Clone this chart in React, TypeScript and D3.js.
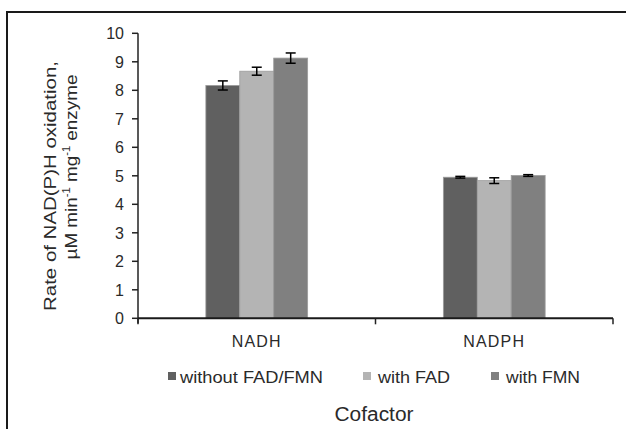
import React from "react";
import * as d3 from "d3";

const categories = ["NADH", "NADPH"];
const seriesNames = ["without FAD/FMN", "with FAD", "with FMN"];
const seriesColors = ["#606060", "#b4b4b4", "#808080"];
const values = [
  [8.17, 8.67, 9.13],
  [4.95, 4.83, 5.01],
];
const errors = [
  [0.16, 0.14, 0.18],
  [0.03, 0.1, 0.03],
];
const yTicks = [0, 1, 2, 3, 4, 5, 6, 7, 8, 9, 10];

const W = 626;
const H = 429;
const left = 138;
const right = 613;
const top = 33.3;
const bottom = 318.3;
const FONT = "'Liberation Sans', Arial, sans-serif";
const TXT = "#2a2a2a";

export default function App() {
  const y = d3.scaleLinear().domain([0, 10]).range([bottom, top]);
  const x0 = d3.scaleBand<string>().domain(categories).range([left, right]).padding(0);
  const x1 = d3
    .scaleBand<string>()
    .domain(seriesNames)
    .range([0, x0.bandwidth()])
    .paddingInner(0)
    .paddingOuter(2);

  const xTickPos = [left, ...categories.map((c) => (x0(c) as number) + x0.bandwidth()), right];
  const uniqTicks = Array.from(new Set(xTickPos.map((v) => Math.round(v * 10) / 10)));

  const legendItems = [
    { sx: 168, tx: 180, w: 143 },
    { sx: 363, tx: 378, w: 72 },
    { sx: 491, tx: 506, w: 74 },
  ];

  return (
    <svg width={W} height={H} style={{ position: "absolute", left: 0, top: 0 }}>
      <rect x={0} y={0} width={W} height={H} fill="#fff" />
      <rect x={7} y={12} width={800} height={600} fill="none" stroke="#1a1a1a" strokeWidth={2} />

      {/* bars */}
      {categories.map((c, ci) =>
        seriesNames.map((s, si) => {
          const bx = (x0(c) as number) + (x1(s) as number);
          const v = values[ci][si];
          return (
            <rect
              key={c + s}
              x={bx}
              y={y(v)}
              width={x1.bandwidth()}
              height={bottom - y(v)}
              fill={seriesColors[si]}
              stroke="#9c9c9c"
              strokeWidth={0.8}
            />
          );
        })
      )}

      {/* error bars */}
      {categories.map((c, ci) =>
        seriesNames.map((s, si) => {
          const cx = (x0(c) as number) + (x1(s) as number) + x1.bandwidth() / 2;
          const v = values[ci][si];
          const e = errors[ci][si];
          return (
            <g key={"e" + c + s} stroke="#000" strokeWidth={1.5}>
              <line x1={cx} x2={cx} y1={y(v + e)} y2={y(v - e)} />
              <line x1={cx - 5} x2={cx + 5} y1={y(v + e)} y2={y(v + e)} />
              <line x1={cx - 5} x2={cx + 5} y1={y(v - e)} y2={y(v - e)} />
            </g>
          );
        })
      )}

      {/* y axis */}
      <line x1={left} x2={left} y1={top} y2={bottom + 5} stroke="#222" strokeWidth={1.5} />
      {yTicks.map((t) => (
        <g key={t}>
          <line x1={left - 6} x2={left} y1={y(t)} y2={y(t)} stroke="#222" strokeWidth={1.5} />
          <text
            x={124}
            y={y(t) + 5.7}
            textAnchor="end"
            fontFamily={FONT}
            fontSize={16}
            fill={TXT}
          >
            {t}
          </text>
        </g>
      ))}

      {/* x axis */}
      <line x1={left} x2={right} y1={bottom} y2={bottom} stroke="#1a1a1a" strokeWidth={2} />
      {uniqTicks.map((t) => (
        <line key={t} x1={t} x2={t} y1={bottom} y2={bottom + 6} stroke="#222" strokeWidth={1.5} />
      ))}
      {categories.map((c) => (
        <text
          key={c}
          x={(x0(c) as number) + x0.bandwidth() / 2}
          y={347}
          textAnchor="middle"
          fontFamily={FONT}
          fontSize={16}
          letterSpacing={1.2}
          fill={TXT}
        >
          {c}
        </text>
      ))}

      {/* legend */}
      {seriesNames.map((s, i) => (
        <g key={s}>
          <rect x={legendItems[i].sx} y={372} width={8} height={8} fill={seriesColors[i]} />
          <text
            x={legendItems[i].tx}
            y={383}
            fontFamily={FONT}
            fontSize={16}
            fill={TXT}
            textLength={legendItems[i].w}
            lengthAdjust="spacingAndGlyphs"
          >
            {s}
          </text>
        </g>
      ))}

      {/* x title */}
      <text
        x={374}
        y={421}
        textAnchor="middle"
        fontFamily={FONT}
        fontSize={20}
        fill={TXT}
        textLength={79}
        lengthAdjust="spacingAndGlyphs"
      >
        Cofactor
      </text>

      {/* y title */}
      <text
        transform={`translate(55.5, 186) rotate(-90)`}
        textAnchor="middle"
        fontFamily={FONT}
        fontSize={17}
        fill={TXT}
        textLength={250}
        lengthAdjust="spacingAndGlyphs"
      >
        Rate of NAD(P)H oxidation,
      </text>
      <text
        transform={`translate(77, 167) rotate(-90)`}
        textAnchor="middle"
        fontFamily={FONT}
        fontSize={17}
        fill={TXT}
        textLength={185}
        lengthAdjust="spacingAndGlyphs"
      >
        <tspan>µM min</tspan>
        <tspan fontSize={10} dy={-7}>-1</tspan>
        <tspan dy={7}> mg</tspan>
        <tspan fontSize={10} dy={-7}>-1</tspan>
        <tspan dy={7}> enzyme</tspan>
      </text>
    </svg>
  );
}
